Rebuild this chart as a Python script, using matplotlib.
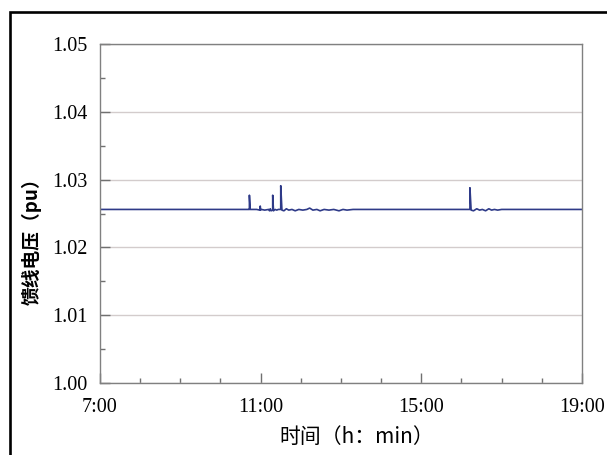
import matplotlib.pyplot as plt
import matplotlib.patches as patches
from matplotlib.ticker import MultipleLocator

# feeder voltage over the day (hours, pu)
hours = [7.00, 10.70, 10.72, 10.72, 10.74, 10.90, 10.98, 10.99, 11.00, 11.02,
         11.10, 11.20, 11.22, 11.24, 11.26, 11.30, 11.30, 11.32, 11.36, 11.40,
         11.44, 11.50, 11.50, 11.53, 11.58, 11.64, 11.70, 11.78, 11.86, 11.95,
         12.05, 12.15, 12.22, 12.30, 12.40, 12.48, 12.58, 12.70, 12.82, 12.95,
         13.05, 13.15, 13.30, 16.18, 16.21, 16.21, 16.24, 16.30, 16.38, 16.45,
         16.52, 16.60, 16.68, 16.75, 16.82, 16.90, 17.00, 19.00]
volts = [1.0256, 1.0256, 1.0256, 1.0277, 1.0256, 1.0256, 1.0255, 1.0261, 1.0255, 1.0256,
         1.0255, 1.0256, 1.0254, 1.0257, 1.0254, 1.0255, 1.0277, 1.0254, 1.0256, 1.0255,
         1.0256, 1.0256, 1.0291, 1.0255, 1.0254, 1.0257, 1.0255, 1.0256, 1.0254, 1.0256,
         1.0255, 1.0256, 1.0258, 1.0255, 1.0256, 1.0254, 1.0256, 1.0255, 1.0256, 1.0254,
         1.0256, 1.0255, 1.0256, 1.0256, 1.0256, 1.0288, 1.0255, 1.0254, 1.0257, 1.0255,
         1.0256, 1.0254, 1.0257, 1.0255, 1.0256, 1.0255, 1.0256, 1.0256]

xticks = [7, 11, 15, 19]
xticklabels = ["7:00", "11:00", "15:00", "19:00"]
yticks = [1.00, 1.01, 1.02, 1.03, 1.04, 1.05]

serif = "Liberation Serif"
cjk = ["Noto Sans CJK SC", "DejaVu Sans"]

fig = plt.figure(figsize=(6.07, 4.55), dpi=100)
ax = fig.add_axes([0.1647, 0.1582, 0.7941, 0.7451])

ax.plot(hours, volts, color="#2e3a88", lw=1.2)

ax.set_xlim(7, 19)
ax.set_ylim(1.00, 1.05)
ax.set_xticks(xticks)
ax.set_xticklabels(xticklabels, fontfamily=serif, fontsize=14.5)
ax.xaxis.set_minor_locator(MultipleLocator(1))
ax.set_yticks(yticks)
ax.set_yticklabels(["%.2f" % v for v in yticks], fontfamily=serif, fontsize=14.5)
ax.yaxis.set_minor_locator(MultipleLocator(0.005))

ax.tick_params(which="major", direction="in", length=7, width=1, color="#707070")
ax.tick_params(which="minor", direction="in", length=3.5, width=1, color="#707070")
ax.tick_params(axis="x", which="major", pad=11)
ax.tick_params(axis="y", which="major", pad=9)
ax.tick_params(top=False, right=False, which="both")

ax.yaxis.grid(True, color="#d3cccc", lw=1)
ax.set_axisbelow(True)
for s in ax.spines.values():
    s.set_color("#808080")
    s.set_linewidth(1)

fig.text(0.588, 0.04, "时间（h：min）", fontfamily=cjk, fontsize=15, ha="center", va="center")
fig.text(0.052, 0.48, "馈线电压（pu）", fontfamily=cjk, fontsize=13.5, fontweight="bold",
         rotation=90, ha="center", va="center")

# outer frame
fig.patches.append(patches.Rectangle((9.5 / 607, -0.1), 1.2, 1.1 - 12 / 455,
                                     transform=fig.transFigure, fill=False,
                                     edgecolor="black", lw=1.9, clip_on=False))

fig.savefig("out.png", dpi=100)
